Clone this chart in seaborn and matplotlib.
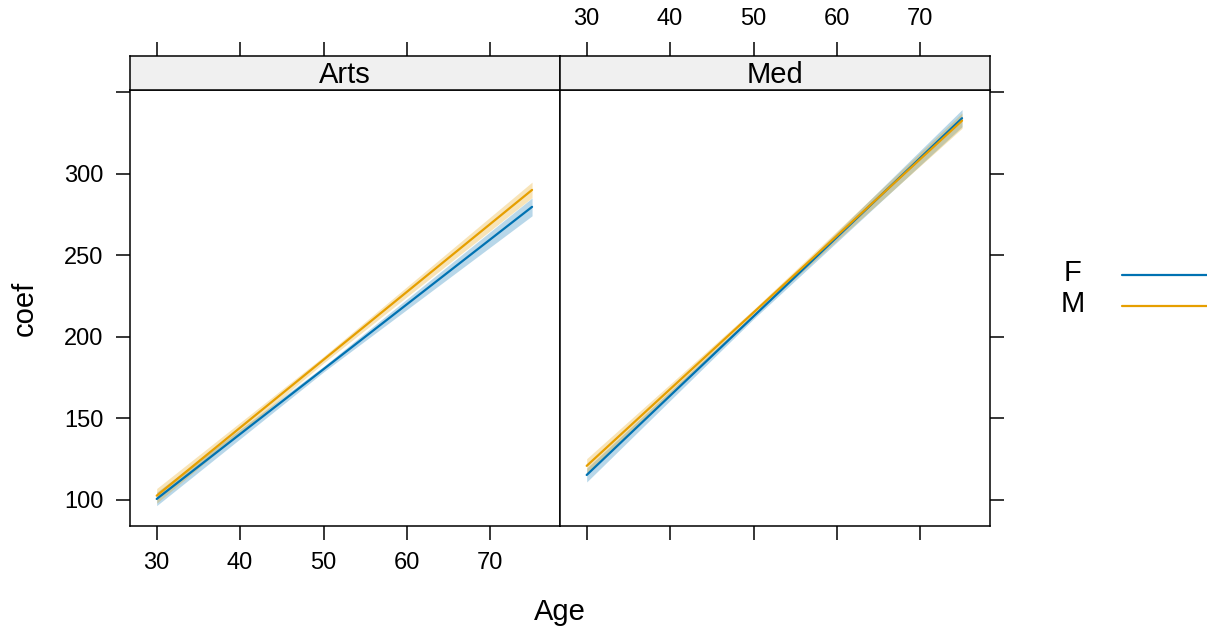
import numpy as np
import pandas as pd
import matplotlib
matplotlib.use("Agg")
import matplotlib.pyplot as plt
import seaborn as sns
from matplotlib.lines import Line2D


# -----------------------------
# Data
# -----------------------------
age = [30, 50, 75]

arts_f_fit = [100.6, 180.2, 279.8]
arts_f_lo = [96.5, 178.5, 274.3]
arts_f_hi = [104.7, 181.9, 285.3]

arts_m_fit = [102.6, 186.0, 290.2]
arts_m_lo = [98.0, 184.0, 285.5]
arts_m_hi = [107.0, 188.0, 295.0]

med_f_fit = [115.3, 212.6, 334.2]
med_f_lo = [111.0, 211.0, 329.0]
med_f_hi = [119.5, 214.2, 339.5]

med_m_fit = [120.9, 215.0, 332.7]
med_m_lo = [116.5, 213.2, 328.0]
med_m_hi = [125.3, 216.8, 337.4]

panels = ["Arts", "Med"]
sexes = ["F", "M"]
x_ticks = [30, 40, 50, 60, 70]
y_ticks = [100, 150, 200, 250, 300, 350]
y_tick_labels = ["100", "150", "200", "250", "300", ""]

colors = {"F": "#0072B2", "M": "#E69F00"}


# -----------------------------
# Long table
# -----------------------------
series = {
    ("Arts", "F"): (arts_f_fit, arts_f_lo, arts_f_hi),
    ("Arts", "M"): (arts_m_fit, arts_m_lo, arts_m_hi),
    ("Med", "F"): (med_f_fit, med_f_lo, med_f_hi),
    ("Med", "M"): (med_m_fit, med_m_lo, med_m_hi),
}
rows = []
for (dept, sex), (fit, lo, hi) in series.items():
    for a, f, l, h in zip(age, fit, lo, hi):
        rows.append({"dept": dept, "sex": sex, "age": a, "fit": f, "lo": l, "hi": h})
df = pd.DataFrame(rows)


# -----------------------------
# Style
# -----------------------------
sns.set_style("white")
plt.rcParams["font.family"] = ["Liberation Sans", "DejaVu Sans"]
plt.rcParams["text.color"] = "black"
plt.rcParams["xtick.color"] = "black"
plt.rcParams["ytick.color"] = "black"
plt.rcParams["xtick.labelcolor"] = "black"
plt.rcParams["ytick.labelcolor"] = "black"
tick_fs = 17
label_fs = 21

W, H = 1207, 632
fig = plt.figure(figsize=(W / 100, H / 100), dpi=100)


def fx(px):
    return px / W


def fy(py):
    return 1 - py / H


xlim = (26.8, 78.35)
ylim = (84.0, 351.5)
panel_x = [(130, 560), (560, 990)]
panel_top, panel_bot, strip_top = 90, 526, 56

for i, dept in enumerate(panels):
    x0, x1 = panel_x[i]
    ax = fig.add_axes([fx(x0), fy(panel_bot), fx(x1 - x0), (panel_bot - panel_top) / H])
    ax_s = fig.add_axes([fx(x0), fy(panel_top), fx(x1 - x0), (panel_top - strip_top) / H])

    sub = df[df["dept"] == dept]
    for sex in sexes:
        s = sub[sub["sex"] == sex]
        ax.fill_between(s["age"], s["lo"], s["hi"], color=colors[sex], alpha=0.28, lw=0)
    sns.lineplot(data=sub, x="age", y="fit", hue="sex", hue_order=sexes,
                 palette=colors, ax=ax, legend=False, errorbar=None, linewidth=1.6)

    ax.set_xlim(xlim)
    ax.set_ylim(ylim)
    ax.set_xlabel("")
    ax.set_ylabel("")
    ax.set_xticks(x_ticks)
    ax.set_yticks(y_ticks)
    ax.set_yticklabels(y_tick_labels)
    for sp in ax.spines.values():
        sp.set_visible(True)
        sp.set_color("black")
        sp.set_linewidth(1.1)
    ax.tick_params(direction="out", length=10, width=1.1, labelsize=tick_fs,
                   pad=9, color="black", labelcolor="black")
    if i == 0:
        ax.tick_params(left=True, labelleft=True, right=False, top=False,
                       bottom=True, labelbottom=True)
    else:
        ax.tick_params(left=False, labelleft=False, right=True, labelright=False,
                       top=False, bottom=True, labelbottom=False)

    # strip
    ax_s.set_facecolor("#f0f0f0")
    ax_s.set_xlim(xlim)
    ax_s.set_yticks([])
    ax_s.set_xticks(x_ticks)
    ax_s.xaxis.set_ticks_position("top")
    ax_s.tick_params(axis="x", direction="out", length=10, width=1.1,
                     labelsize=tick_fs, pad=9, top=True, bottom=False,
                     labeltop=(i == 1), labelbottom=False,
                     color="black", labelcolor="black")
    for sp in ax_s.spines.values():
        sp.set_visible(True)
        sp.set_color("black")
        sp.set_linewidth(1.1)
    ax_s.text(0.5, 0.45, dept, transform=ax_s.transAxes, ha="center",
              va="center", fontsize=label_fs, color="black")

# axis labels
fig.text(fx(25), fy(308), "coef", rotation=90, ha="center", va="center",
         fontsize=label_fs, color="black")
fig.text(fx(560), fy(612), "Age", ha="center", va="center",
         fontsize=label_fs, color="black")

# legend
for k, sex in enumerate(sexes):
    yy = 275 + k * 31
    fig.text(fx(1073), fy(yy - 2), sex, ha="center", va="center",
             fontsize=label_fs, color="black")
    fig.add_artist(Line2D([fx(1122), fx(1207)], [fy(yy), fy(yy)],
                          color=colors[sex], linewidth=1.6, transform=fig.transFigure))

fig.savefig("out.png", dpi=100)
